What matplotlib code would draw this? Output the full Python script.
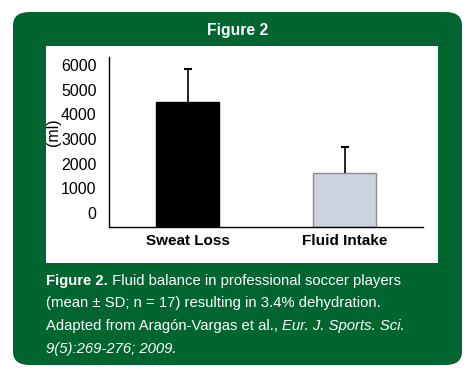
import numpy as np
import matplotlib.pyplot as plt
from matplotlib.patches import FancyBboxPatch, Rectangle

categories = ["Sweat Loss", "Fluid Intake"]
means = [4500, 1620]
sds = [1330, 1050]
yticks = [0, 1000, 2000, 3000, 4000, 5000, 6000]

GREEN = "#00652e"
W, H = 475, 381
plt.rcParams["font.family"] = ["Liberation Sans", "DejaVu Sans"]

fig = plt.figure(figsize=(W / 100, H / 100), dpi=100)
fig.patch.set_facecolor("white")

def fx(px):
    return px / W

def fy(py):
    return 1 - py / H

# green frame with rounded corners
fig.patches.append(FancyBboxPatch((fx(13), fy(365)), fx(462) - fx(13), fy(12) - fy(365),
                                  boxstyle="round,pad=0,rounding_size=0.035",
                                  transform=fig.transFigure, facecolor=GREEN,
                                  edgecolor="none", zorder=0))
fig.patches.append(Rectangle((fx(46), fy(263)), fx(438) - fx(46), fy(46) - fy(263),
                             transform=fig.transFigure, facecolor="white",
                             edgecolor="none", zorder=1))

fig.text(0.5, fy(30), "Figure 2", color="white", fontsize=11.3, fontweight="bold",
         ha="center", va="center")

# chart
base = -570
ax = fig.add_axes([fx(109), fy(227), fx(423) - fx(109), fy(57) - fy(227)])
ax.set_zorder(3)
ax.patch.set_alpha(0)
x = np.arange(len(categories))
vals = np.array(means)
tops = vals + np.array(sds)
ax.bar(x, vals - base, bottom=base, width=0.4, color=["black", "#cdd3de"],
       edgecolor=["black", "#8c8c8c"], linewidth=1)
# upper error bars only
ax.vlines(x, vals, tops, color="black", linewidth=1.2)
ax.plot(x, tops, ls="none", marker="_", ms=6, mew=1.5, color="black")
ax.set_xlim(-0.5, 1.5)
ax.set_ylim(base, 6320)
ax.set_yticks(yticks)
ax.set_yticklabels([str(t) for t in yticks], fontsize=11.5)
ax.set_xticks(x)
ax.set_xticklabels(categories, fontsize=11, fontweight="bold")
ax.tick_params(axis="y", length=0, pad=9)
ax.tick_params(axis="x", length=0, pad=5)
for s in ["top", "right"]:
    ax.spines[s].set_visible(False)
ax.spines["left"].set_linewidth(1)
ax.spines["bottom"].set_linewidth(1)
fig.text(fx(53), fy(132), "(ml)", rotation=90, fontsize=11.5, ha="center", va="center",
         zorder=4)

# caption, built from pieces
lines = [
    [("Figure 2.", "bold", "normal"), (" Fluid balance in professional soccer players", "normal", "normal")],
    [("(mean \u00b1 SD; n = 17) resulting in 3.4% dehydration.", "normal", "normal")],
    [("Adapted from Arag\u00f3n-Vargas et al., ", "normal", "normal"),
     ("Eur. J. Sports. Sci.", "normal", "italic")],
    [("9(5):269-276; 2009.", "normal", "italic")],
]
cap_size = 10.7
for i, line in enumerate(lines):
    last = None
    for txt, wt, st in line:
        if last is None:
            last = fig.text(fx(46), fy(281 + i * 22.5), txt, color="white", fontsize=cap_size,
                            fontweight=wt, fontstyle=st, ha="left", va="center")
        else:
            last = ax.annotate(txt, xy=(1, 0), xycoords=last, color="white", fontsize=cap_size,
                               fontweight=wt, fontstyle=st, ha="left", va="bottom",
                               annotation_clip=False)

fig.savefig("out.png", dpi=100, facecolor="white")
